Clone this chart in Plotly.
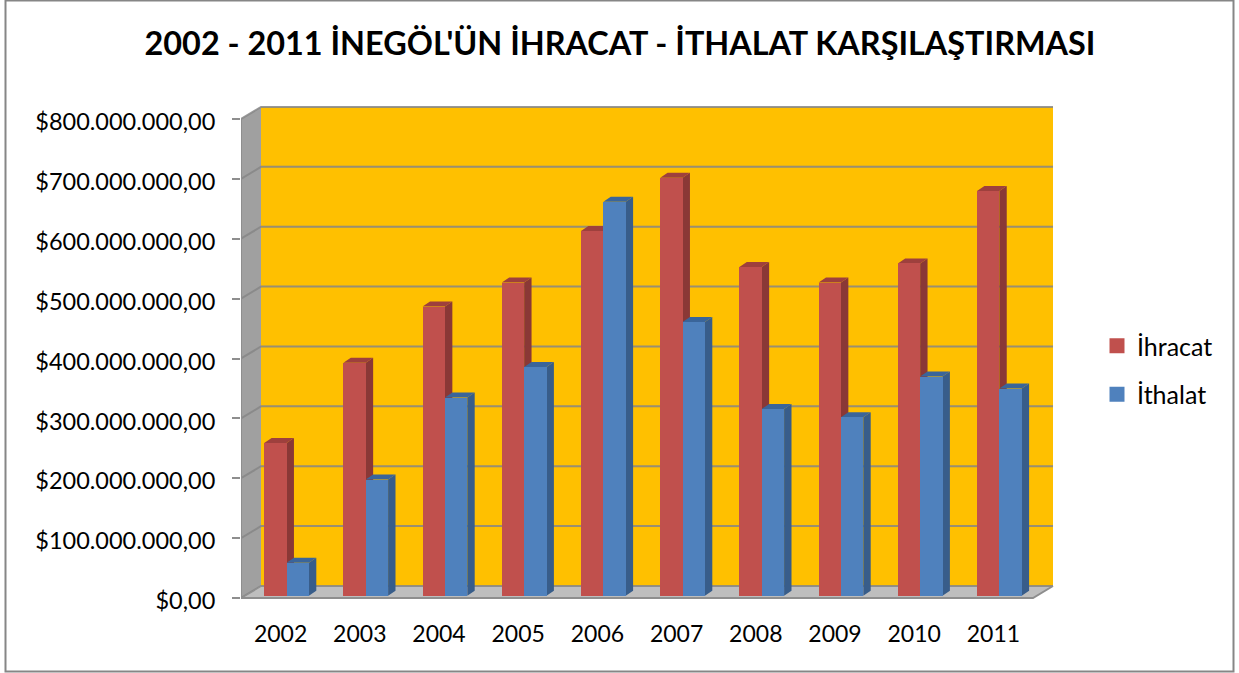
import plotly.graph_objects as go

# ---- data ----
years = ["2002", "2003", "2004", "2005", "2006", "2007", "2008", "2009", "2010", "2011"]
ihracat = [255, 389, 483, 523, 609, 698, 549, 523, 555, 676]   # million USD
ithalat = [55, 194, 331, 382, 658, 457, 312, 298, 366, 346]    # million USD
tick_values = [0, 100, 200, 300, 400, 500, 600, 700, 800]
tick_labels = ["$0,00", "$100.000.000,00", "$200.000.000,00", "$300.000.000,00", "$400.000.000,00",
               "$500.000.000,00", "$600.000.000,00", "$700.000.000,00", "$800.000.000,00"]
title_text = "2002 - 2011 İNEGÖL'ÜN İHRACAT - İTHALAT KARŞILAŞTIRMASI"

# ---- geometry ----
W, H = 1239, 673
FONT = "Lato"
PX_X = 79.2            # px per category
PX_Y = 479 / 800       # px per million
LEFT, RIGHT, TOP, BOTTOM = 241, 1056, 104, 601
xr = [-0.5, -0.5 + (RIGHT - LEFT) / PX_X]
yr = [-(BOTTOM - 598) / PX_Y, (598 - TOP) / PX_Y]
WALL_DX, WALL_DY = 20 / PX_X, 12 / PX_Y
BAR_W = 22.35 / PX_X
BAR_X0 = -16.4 / PX_X
BAR_BASE = 2.3 / PX_Y
DEPTH_DX, DEPTH_DY = 7.4 / PX_X, 5 / PX_Y
X_FRONT_END = 9.5
Y_MAX = tick_values[-1]

def polys(items):
    xs, ys = [], []
    for pts in items:
        for (a, b) in pts + [pts[0]]:
            xs.append(a)
            ys.append(b)
        xs.append(None)
        ys.append(None)
    return xs, ys

def poly_trace(items, color, line_w=0, line_color=None):
    xs, ys = polys(items)
    return go.Scatter(x=xs, y=ys, mode="lines", fill="toself", fillcolor=color,
                      line=dict(width=line_w, color=line_color or color),
                      hoverinfo="skip", showlegend=False)

def faces(values, slot):
    side, top = [], []
    for i, v in enumerate(values):
        x0 = i + BAR_X0 + slot * BAR_W
        x1 = x0 + BAR_W
        y0, y1 = BAR_BASE, BAR_BASE + v
        side.append([(x1, y0), (x1 + DEPTH_DX, y0 + DEPTH_DY), (x1 + DEPTH_DX, y1 + DEPTH_DY), (x1, y1)])
        top.append([(x0, y1), (x1, y1), (x1 + DEPTH_DX, y1 + DEPTH_DY), (x0 + DEPTH_DX, y1 + DEPTH_DY)])
    return side, top

fig = go.Figure()

# walls and floor
xb = -0.5 + WALL_DX
xe = X_FRONT_END + WALL_DX
fig.add_trace(poly_trace([[(xb, WALL_DY), (xe, WALL_DY), (xe, Y_MAX + WALL_DY), (xb, Y_MAX + WALL_DY)]], "#FFC000"))
fig.add_trace(poly_trace([[(-0.5, 0), (xb, WALL_DY), (xb, Y_MAX + WALL_DY), (-0.5, Y_MAX)]], "#A0A0A0"))
fig.add_trace(poly_trace([[(-0.5, 0), (X_FRONT_END, 0), (xe, WALL_DY), (xb, WALL_DY)]], "#BEBEBE"))

# gridlines on back wall and side wall
gx, gy = [], []
for t in tick_values:
    gx += [-0.5, xb, xe, None]
    gy += [t, t + WALL_DY, t + WALL_DY, None]
fig.add_trace(go.Scatter(x=gx, y=gy, mode="lines", line=dict(color="rgba(134,134,134,0.85)", width=2),
                         hoverinfo="skip", showlegend=False))
# axis line and floor edge
fig.add_trace(go.Scatter(x=[-0.5, -0.5, X_FRONT_END, xe], y=[Y_MAX, 0, 0, WALL_DY], mode="lines",
                         line=dict(color="#8E8E8E", width=2), hoverinfo="skip", showlegend=False))

# depth faces of the bars
r_side, r_top = faces(ihracat, 0)
b_side, b_top = faces(ithalat, 1)
fig.add_trace(poly_trace(r_side, "#8A3836"))
fig.add_trace(poly_trace(r_top, "#9E403D"))
fig.add_trace(poly_trace(b_side, "#385D8A"))
fig.add_trace(poly_trace(b_top, "#3A659A"))

# front faces: real bars on an overlaid axis pair so that they sit above the depth faces
for name, vals, slot, color in (("İhracat", ihracat, 0, "#C0504D"), ("İthalat", ithalat, 1, "#4F81BD")):
    fig.add_trace(go.Bar(x=list(range(len(years))), y=vals, base=BAR_BASE, name=name,
                         width=BAR_W, offset=BAR_X0 + slot * BAR_W, marker=dict(color=color, line=dict(width=0)),
                         xaxis="x2", yaxis="y2", showlegend=False, legendgroup=name))
    fig.add_trace(go.Scatter(x=[None], y=[None], name=name, mode="markers", legendgroup=name,
                             marker=dict(symbol="square", size=15, color=color)))

dom_x = [LEFT / W, RIGHT / W]
dom_y = [1 - BOTTOM / H, 1 - TOP / H]
fig.update_layout(
    width=W, height=H, margin=dict(l=0, r=0, t=0, b=0, pad=0, autoexpand=False),
    paper_bgcolor="white", plot_bgcolor="rgba(0,0,0,0)",
    font=dict(family=FONT, size=23, color="black"),
    barmode="overlay", bargap=0,
    title=dict(text=title_text, x=620 / W, xanchor="center", y=1 - 44 / H, yanchor="middle",
               font=dict(family=FONT, size=32.4, color="black", weight="bold")),
    xaxis=dict(domain=dom_x, range=xr, tickmode="array", tickvals=list(range(len(years))), ticktext=years,
               ticks="", showgrid=False, zeroline=False, showline=False, ticklabelstandoff=17,
               tickfont=dict(size=23, family=FONT)),
    yaxis=dict(domain=dom_y, range=yr, tickmode="array", tickvals=tick_values, ticktext=tick_labels,
               ticks="outside", ticklen=8, tickwidth=2, tickcolor="#8E8E8E", showgrid=False, zeroline=False,
               showline=False, ticklabelstandoff=12, ticklabelshift=3, tickfont=dict(size=23.5, family=FONT)),
    xaxis2=dict(domain=dom_x, range=xr, overlaying="x", visible=False),
    yaxis2=dict(domain=dom_y, range=yr, overlaying="y", visible=False),
    legend=dict(x=1097 / W, y=1 - 323 / H, xanchor="left", yanchor="top", bgcolor="rgba(0,0,0,0)",
                font=dict(size=25, family=FONT), itemsizing="trace", tracegroupgap=13),
    shapes=[dict(type="rect", xref="paper", yref="paper", x0=5.5 / W, x1=1233.5 / W, y0=1 - 671.5 / H, y1=1 - 0.5 / H,
                 line=dict(color="#868686", width=2), fillcolor="rgba(0,0,0,0)", layer="below")],
)
fig.write_html("out.html", config={"displayModeBar": False},
               post_script="document.body.style.margin='0';document.body.style.overflow='hidden';")
